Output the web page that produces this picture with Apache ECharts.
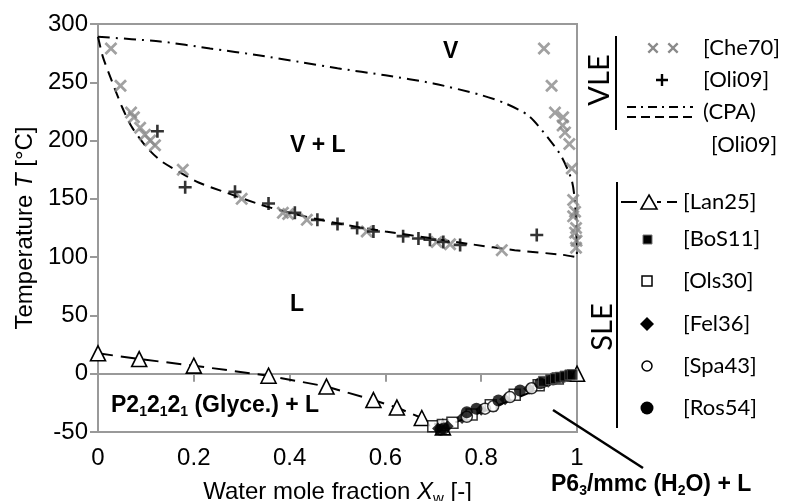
<!DOCTYPE html>
<html><head><meta charset="utf-8">
<script src="https://cdn.jsdelivr.net/npm/echarts@6/dist/echarts.min.js"></script>
<style>html,body{margin:0;padding:0;background:#fff}#c{width:787px;height:501px}</style>
</head><body><div id="c"></div>
<script>
// ---------- data ----------
const xTickValues = [0, 0.2, 0.4, 0.6, 0.8, 1];
const yTickValues = [-50, 0, 50, 100, 150, 200, 250, 300];

const che70 = [[0.027,279],[0.047,247],[0.069,224],[0.075,220],[0.088,211],[0.098,205],[0.109,200],[0.119,196],
  [0.177,175],[0.300,150],[0.386,138],[0.397,137],[0.436,132],[0.561,122],[0.707,113],[0.735,111],[0.843,106],
  [0.931,279],[0.947,247],[0.954,224],[0.971,220],[0.970,213],[0.975,207],[0.984,197],[0.989,176],[0.992,149],
  [0.996,139],[0.992,135],[0.996,121],[0.998,108],[0.998,125],[0.999,114]];
const oli09 = [[0.124,208],[0.182,160],[0.286,156],[0.356,146],[0.411,138],[0.458,132],[0.500,128.5],[0.541,125],
  [0.575,122],[0.637,118],[0.669,116],[0.693,115],[0.721,113],[0.756,110.5],[0.916,119]];
const cpaBubble = [[0,289],[0.01,272],[0.028,252],[0.05,229],[0.07,212],[0.1,195],[0.13,183],[0.17,173],[0.21,164],
  [0.27,155],[0.34,145],[0.4,138],[0.5,129],[0.6,122],[0.7,116],[0.78,111],[0.87,106],[0.97,102],[1.0,100]];
const cpaDew = [[0,289],[0.13,285],[0.234,279],[0.338,273],[0.428,267],[0.5,262],[0.6,256],[0.7,249],[0.8,239],
  [0.85,232],[0.9,221],[0.944,200],[0.968,186],[0.989,166],[0.996,146],[1.0,100]];
const lan25 = [[0,17.5],[0.086,12.6],[0.2,6.9],[0.356,-1.7],[0.477,-11],[0.575,-22.6],[0.624,-29],[0.676,-38],[0.72,-46],[1.0,0]];
const bos11 = [[0.93,-6.5],[0.945,-5],[0.955,-4],[0.965,-3],[0.975,-2],[0.985,-1],[0.99,-0.8]];
const ols30 = [[0.70,-45],[0.72,-44],[0.74,-42],[0.78,-35],[0.82,-27],[0.87,-18],[0.92,-10],[0.96,-4]];
const fel36 = [[0.71,-47],[0.73,-45],[0.76,-38],[0.80,-31],[0.85,-22],[0.90,-13],[0.94,-7],[0.97,-3]];
const spa43 = [[0.77,-37],[0.808,-30],[0.825,-28],[0.86,-20],[0.905,-12.5]];
const ros54 = [[0.715,-48],[0.722,-47],[0.77,-33],[0.79,-30],[0.836,-23],[0.881,-14.5],[0.923,-8.2],[0.95,-5],[0.98,-2]];

// ---------- styles ----------
const FS = 'Liberation Sans, Arial, sans-serif';
const LF = 'Lato, "Open Sans", sans-serif';
const X_PTS = [[0,1.5],[1.5,0],[5,3.5],[8.5,0],[10,1.5],[6.5,5],[10,8.5],[8.5,10],[5,6.5],[1.5,10],[0,8.5],[3.5,5]];
const P_PTS = [[4,0],[6,0],[6,4],[10,4],[10,6],[6,6],[6,10],[4,10],[4,6],[0,6],[0,4],[4,4]];
const toPath = pts => 'path://M' + pts.map(p => p[0] + ',' + p[1]).join('L') + 'Z';
const GRAY = '#8a8a8a';

const boldRich = {
  b: {fontSize: 23, fontWeight: 'bold', fontFamily: FS, fill: '#000', lineHeight: 26},
  s: {fontSize: 14, fontWeight: 'bold', fontFamily: FS, fill: '#000', lineHeight: 12, verticalAlign: 'bottom'}
};
function btext(x, y, text, align) {
  return {type: 'text', x: x, y: y, z: 50, style: {text: text, rich: boldRich, align: align || 'left', verticalAlign: 'middle'}};
}
function ltext(x, y, text, size, rot) {
  return {type: 'text', x: x, y: y, rotation: rot || 0, z: 50,
    style: {text: text, font: (size || 22) + 'px ' + LF, fill: '#000', align: rot ? 'center' : 'left', verticalAlign: 'middle'}};
}
function line(x1, y1, x2, y2, w, dash, color) {
  return {type: 'line', z: 50, shape: {x1, y1, x2, y2}, style: {stroke: color || '#000', lineWidth: w || 2, lineDash: dash || null}};
}
function polySym(cx, cy, size, pts, color) {
  return {type: 'polygon', z: 50, shape: {points: pts.map(p => [cx - size / 2 + p[0] * size / 10, cy - size / 2 + p[1] * size / 10])}, style: {fill: color}};
}

const chart = echarts.init(document.getElementById('c'));
const option = {
  animation: false,
  backgroundColor: '#fff',
  grid: {left: 98, right: 210, top: 24, bottom: 69, containLabel: false, outerBoundsMode: 'none',
    show: true, borderColor: '#999', borderWidth: 2, backgroundColor: 'transparent'},
  xAxis: {
    type: 'value', min: 0, max: 1, interval: 0.2,
    axisLine: {lineStyle: {color: '#999', width: 2}},
    axisTick: {show: true, length: 8, lineStyle: {color: '#999', width: 2}},
    splitLine: {show: false},
    axisLabel: {fontSize: 24, fontFamily: FS, color: '#000', margin: 14,
      formatter: v => (xTickValues.includes(+v.toFixed(2)) ? String(+v.toFixed(2)) : '')},
    name: '{t|Water mole fraction }{i|X}{s|w}{t| [-]}',
    nameLocation: 'middle', nameGap: 46,
    nameTextStyle: {rich: {
      t: {fontSize: 24, fontFamily: FS, color: '#000', lineHeight: 28},
      i: {fontSize: 24, fontFamily: FS, fontStyle: 'italic', color: '#000', lineHeight: 28},
      s: {fontSize: 15, fontFamily: FS, color: '#000', lineHeight: 12, verticalAlign: 'bottom'}
    }}
  },
  yAxis: {
    type: 'value', min: -50, max: 300, interval: 50,
    axisLine: {lineStyle: {color: '#999', width: 2}},
    axisTick: {show: true, length: 8, lineStyle: {color: '#999', width: 2}},
    splitLine: {show: false},
    axisLabel: {fontSize: 24, fontFamily: FS, color: '#000', margin: 10,
      formatter: v => (yTickValues.includes(v) ? String(v) : '')},
    name: '{t|Temperature }{i|T}{t| [°C]}',
    nameLocation: 'middle', nameGap: 60,
    nameTextStyle: {rich: {
      t: {fontSize: 24, fontFamily: FS, color: '#000'},
      i: {fontSize: 24, fontFamily: FS, fontStyle: 'italic', color: '#000'}
    }}
  },
  series: [
    {type: 'line', data: cpaDew, smooth: 0.25, symbol: 'none', lineStyle: {color: '#000', width: 2, type: [12, 6, 2, 6]}, z: 2},
    {type: 'line', data: cpaBubble, smooth: 0.25, symbol: 'none', lineStyle: {color: '#000', width: 2, type: [11, 7]}, z: 2},
    {type: 'line', data: lan25, symbol: 'triangle', symbolSize: 15, showSymbol: true,
      itemStyle: {color: '#fff', borderColor: '#000', borderWidth: 1.6},
      lineStyle: {color: '#000', width: 2, type: [15, 8]}, z: 3},
    {type: 'scatter', data: ols30, symbol: 'rect', symbolSize: 11, itemStyle: {color: '#fff', borderColor: '#000', borderWidth: 1.5}, z: 4},
    {type: 'scatter', data: fel36, symbol: 'diamond', symbolSize: 12, itemStyle: {color: '#000'}, z: 4},
    {type: 'scatter', data: spa43, symbol: 'circle', symbolSize: 11, itemStyle: {color: '#fff', borderColor: '#000', borderWidth: 1.5}, z: 5},
    {type: 'scatter', data: ros54, symbol: 'circle', symbolSize: 12, itemStyle: {color: '#000'}, z: 5},
    {type: 'scatter', data: bos11, symbol: 'rect', symbolSize: 10, itemStyle: {color: '#000', borderColor: '#555', borderWidth: 1}, z: 5},
    {type: 'scatter', data: che70, symbol: toPath(X_PTS), symbolSize: 13, itemStyle: {color: GRAY}, z: 6},
    {type: 'scatter', data: oli09, symbol: toPath(P_PTS), symbolSize: 13, itemStyle: {color: '#000'}, z: 7}
  ],
  graphic: [
    // region labels
    btext(443, 52, '{b|V}'),
    btext(290, 146, '{b|V + L}'),
    btext(290, 305, '{b|L}'),
    btext(111, 406, '{b|P2}{s|1}{b|2}{s|1}{b|2}{s|1}{b| (Glyce.) + L}'),
    btext(551, 485, '{b|P6}{s|3}{b|/mmc (H}{s|2}{b|O) + L}'),
    line(553, 410, 643, 468, 2.5),
    // VLE legend
    line(616, 36, 616, 130, 2),
    ltext(600, 80, 'VLE', 29, Math.PI / 2),
    polySym(653, 48, 11, X_PTS, GRAY),
    polySym(673, 48, 11, X_PTS, GRAY),
    ltext(703, 48, '[Che70]'),
    polySym(662, 80, 12, P_PTS, '#000'),
    ltext(703, 80, '[Oli09]'),
    line(627, 107, 693, 107, 2, [9, 5, 2, 5]),
    line(627, 117, 693, 117, 2, [9, 5]),
    ltext(703, 112, '(CPA)'),
    ltext(711, 145, '[Oli09]'),
    // SLE legend
    line(617, 182, 617, 428, 2),
    ltext(603, 327, 'SLE', 29, Math.PI / 2),
    line(621, 202, 637, 202, 2),
    {type: 'polygon', z: 50, shape: {points: [[649, 195], [657, 209], [641, 209]]}, style: {fill: '#fff', stroke: '#000', lineWidth: 1.6}},
    line(657, 202, 661, 202, 2),
    line(667, 202, 677, 202, 2),
    ltext(683, 202, '[Lan25]'),
    {type: 'rect', z: 50, shape: {x: 643, y: 235, width: 9, height: 9}, style: {fill: '#000', stroke: '#777', lineWidth: 1}},
    ltext(683, 239, '[BoS11]'),
    {type: 'rect', z: 50, shape: {x: 642, y: 276, width: 10, height: 10}, style: {fill: '#fff', stroke: '#000', lineWidth: 1.5}},
    ltext(683, 281, '[Ols30]'),
    {type: 'polygon', z: 50, shape: {points: [[647, 317], [654, 324], [647, 331], [640, 324]]}, style: {fill: '#000'}},
    ltext(683, 324, '[Fel36]'),
    {type: 'circle', z: 50, shape: {cx: 647, cy: 366, r: 5}, style: {fill: '#fff', stroke: '#000', lineWidth: 1.5}},
    ltext(683, 366, '[Spa43]'),
    {type: 'circle', z: 50, shape: {cx: 647, cy: 408, r: 6.5}, style: {fill: '#000'}},
    ltext(683, 408, '[Ros54]')
  ]
};
chart.setOption(option);
</script>
</body></html>
